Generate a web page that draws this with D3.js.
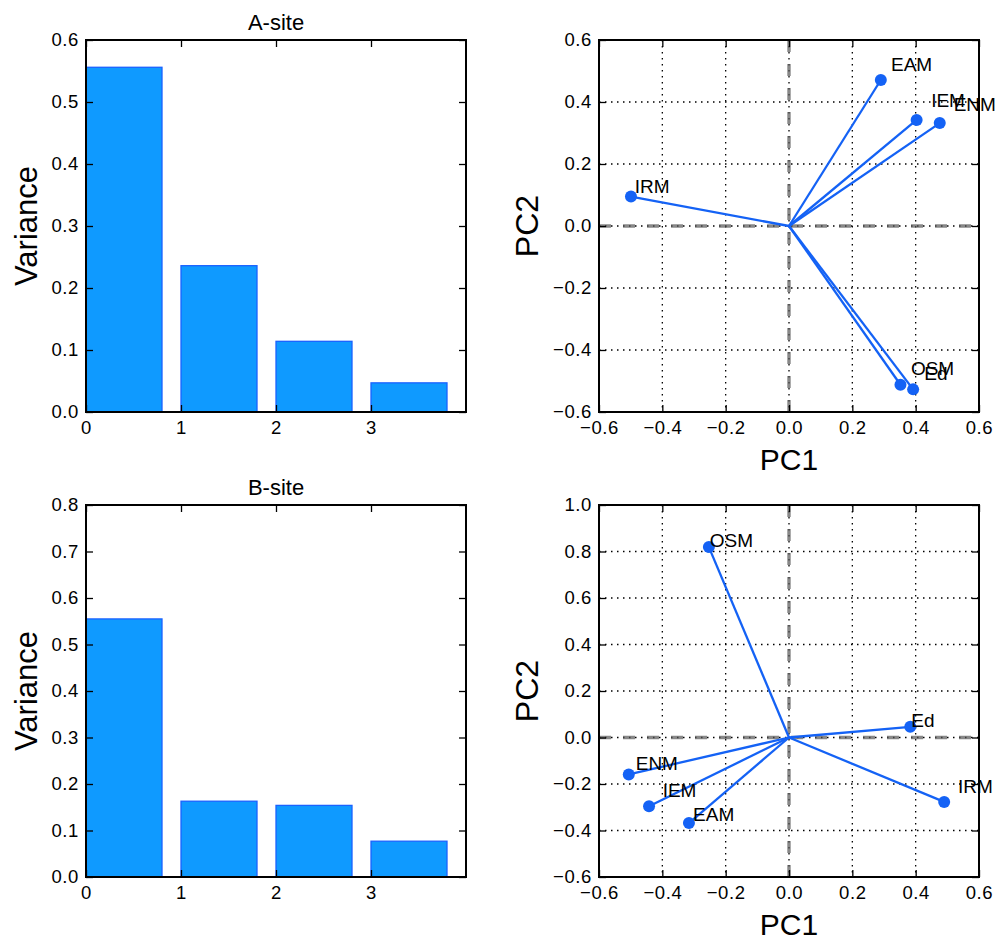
<!DOCTYPE html>
<html><head><meta charset="utf-8">
<script src="https://cdn.jsdelivr.net/npm/d3@7"></script>
<style>
html,body{margin:0;padding:0;background:#fff;}
svg text{font-family:"Liberation Sans",Arial,Helvetica,sans-serif;fill:#000;}
</style></head>
<body>
<svg id="chart" width="998" height="942"></svg>
<script>
// ---- data ----
const components = [0, 1, 2, 3];
const varianceA = [0.556, 0.236, 0.114, 0.047];
const varianceB = [0.555, 0.163, 0.154, 0.077];

const featuresA = ["EAM", "IEM", "ENM", "IRM", "OSM", "Ed"];
const pc1A = [0.290, 0.403, 0.476, -0.499, 0.352, 0.392];
const pc2A = [0.471, 0.342, 0.332, 0.095, -0.512, -0.527];
const labelXA = [0.322, 0.449, 0.520, -0.487, 0.385, 0.427];
const labelYA = [0.501, 0.383, 0.372, 0.105, -0.481, -0.497];

const featuresB = ["OSM", "Ed", "IRM", "ENM", "IEM", "EAM"];
const pc1B = [-0.253, 0.383, 0.490, -0.506, -0.442, -0.316];
const pc2B = [0.819, 0.046, -0.277, -0.159, -0.296, -0.368];
const labelXB = [-0.250, 0.386, 0.534, -0.484, -0.399, -0.303];
const labelYB = [0.820, 0.046, -0.239, -0.141, -0.256, -0.359];

const barTicksA = [0, 0.1, 0.2, 0.3, 0.4, 0.5, 0.6];
const barTicksB = [0, 0.1, 0.2, 0.3, 0.4, 0.5, 0.6, 0.7, 0.8];
const pcTicksX = [-0.6, -0.4, -0.2, 0, 0.2, 0.4, 0.6];
const pcTicksYA = [-0.6, -0.4, -0.2, 0, 0.2, 0.4, 0.6];
const pcTicksYB = [-0.6, -0.4, -0.2, 0, 0.2, 0.4, 0.6, 0.8, 1.0];

// ---- styles ----
const barFill = "#0f9aff", barEdge = "#1a62ff", vecColor = "#1462f5";
const tickFont = 18.5, labelFont = 19;

const svg = d3.select("#chart");
const fmt = d3.format(".1f");

function frame(g, x0, y0, w, h) {
  g.append("rect").attr("x", x0).attr("y", y0).attr("width", w).attr("height", h)
    .attr("fill", "none").attr("stroke", "#000").attr("stroke-width", 2);
}

function axes(g, x, y, xt, yt, xfmt, yfmt) {
  const [xa, xb] = x.range(), [yb, ya] = y.range();
  const style = sel => {
    sel.select(".domain").remove();
    sel.selectAll(".tick line").attr("stroke", "#000").attr("stroke-width", 1.3);
    sel.selectAll("text").attr("font-size", tickFont).attr("fill", "#000")
      .attr("font-family", '"Liberation Sans",Arial,sans-serif').style("letter-spacing", "0.6px");
  };
  g.append("g").attr("transform", `translate(0,${yb})`)
    .call(d3.axisBottom(x).tickValues(xt).tickFormat(xfmt).tickSizeInner(-7).tickSizeOuter(0).tickPadding(9))
    .call(style).call(s => s.selectAll("text").attr("dy", "0.71em"));
  g.append("g").attr("transform", `translate(0,${ya})`)
    .call(d3.axisTop(x).tickValues(xt).tickFormat("").tickSizeInner(-7).tickSizeOuter(0))
    .call(style);
  g.append("g").attr("transform", `translate(${xa},0)`)
    .call(d3.axisLeft(y).tickValues(yt).tickFormat(yfmt).tickSizeInner(-7).tickSizeOuter(0).tickPadding(7))
    .call(style);
  g.append("g").attr("transform", `translate(${xb},0)`)
    .call(d3.axisRight(y).tickValues(yt).tickFormat("").tickSizeInner(-7).tickSizeOuter(0))
    .call(style);
}

function barPanel(x0, y0, w, h, values, yMax, yTicks, title) {
  const g = svg.append("g");
  const x = d3.scaleLinear().domain([0, 4]).range([x0, x0 + w]);
  const y = d3.scaleLinear().domain([0, yMax]).range([y0 + h, y0]);
  g.selectAll("rect.bar").data(values).join("rect").attr("class", "bar")
    .attr("x", (d, i) => x(components[i]))
    .attr("width", (d, i) => x(components[i] + 0.8) - x(components[i]))
    .attr("y", d => y(d)).attr("height", d => y(0) - y(d))
    .attr("fill", barFill).attr("stroke", barEdge).attr("stroke-width", 1.3);
  axes(g, x, y, components, yTicks, d3.format("d"), fmt);
  frame(g, x0, y0, w, h);
  g.append("text").attr("x", x0 + w / 2).attr("y", y0 - 10).attr("text-anchor", "middle")
    .attr("font-size", 22).text(title);
  g.append("text").attr("transform", `translate(37,${y0 + h / 2}) rotate(-90)`)
    .attr("text-anchor", "middle").attr("font-size", 31).text("Variance");
}

function pcPanel(x0, y0, w, h, yDom, yTicks, feats, px, py, lx, ly, clipId) {
  const g = svg.append("g");
  const x = d3.scaleLinear().domain([-0.6, 0.6]).range([x0, x0 + w]);
  const y = d3.scaleLinear().domain(yDom).range([y0 + h, y0]);
  svg.append("clipPath").attr("id", clipId).append("rect")
    .attr("x", x0).attr("y", y0).attr("width", w).attr("height", h);
  const grid = g.append("g").attr("clip-path", `url(#${clipId})`);
  grid.selectAll("line.gx").data(pcTicksX).join("line")
    .attr("x1", d => x(d)).attr("x2", d => x(d)).attr("y1", y0).attr("y2", y0 + h)
    .attr("stroke", "#000").attr("stroke-width", 1.3).attr("stroke-dasharray", "1.5,4.5");
  grid.selectAll("line.gy").data(yTicks).join("line")
    .attr("y1", d => y(d)).attr("y2", d => y(d)).attr("x1", x0).attr("x2", x0 + w)
    .attr("stroke", "#000").attr("stroke-width", 1.3).attr("stroke-dasharray", "1.5,4.5");
  // zero reference lines
  grid.append("line").attr("x1", x(-0.6)).attr("x2", x(0.6)).attr("y1", y(0)).attr("y2", y(0))
    .attr("stroke", "#555").attr("stroke-opacity", 0.7).attr("stroke-width", 3.4)
    .attr("stroke-dasharray", "12,12");
  grid.append("line").attr("x1", x(0)).attr("x2", x(0)).attr("y1", y(yDom[1])).attr("y2", y(yDom[0]))
    .attr("stroke", "#555").attr("stroke-opacity", 0.7).attr("stroke-width", 3.4)
    .attr("stroke-dasharray", "12,12");
  axes(g, x, y, pcTicksX, yTicks, fmt, fmt);
  frame(g, x0, y0, w, h);
  const idx = d3.range(feats.length);
  g.selectAll("line.vec").data(idx).join("line").attr("class", "vec")
    .attr("x1", x(0)).attr("y1", y(0)).attr("x2", i => x(px[i])).attr("y2", i => y(py[i]))
    .attr("stroke", vecColor).attr("stroke-width", 2.3);
  g.selectAll("circle.pt").data(idx).join("circle").attr("class", "pt")
    .attr("cx", i => x(px[i])).attr("cy", i => y(py[i])).attr("r", 6).attr("fill", vecColor);
  g.selectAll("text.lab").data(idx).join("text").attr("class", "lab")
    .attr("x", i => x(lx[i])).attr("y", i => y(ly[i])).attr("font-size", labelFont)
    .text(i => feats[i]);
  g.append("text").attr("x", x0 + w / 2).attr("y", y0 + h + 58).attr("text-anchor", "middle")
    .attr("font-size", 30).text("PC1");
  g.append("text").attr("transform", `translate(538,${y0 + h / 2}) rotate(-90)`)
    .attr("text-anchor", "middle").attr("font-size", 32).text("PC2");
}

barPanel(86, 40, 380, 372, varianceA, 0.6, barTicksA, "A-site");
barPanel(86, 505, 380, 372, varianceB, 0.8, barTicksB, "B-site");
pcPanel(599, 40, 380, 372, [-0.6, 0.6], pcTicksYA, featuresA, pc1A, pc2A, labelXA, labelYA, "clipA");
pcPanel(599, 505, 380, 372, [-0.6, 1.0], pcTicksYB, featuresB, pc1B, pc2B, labelXB, labelYB, "clipB");
</script>
</body></html>
